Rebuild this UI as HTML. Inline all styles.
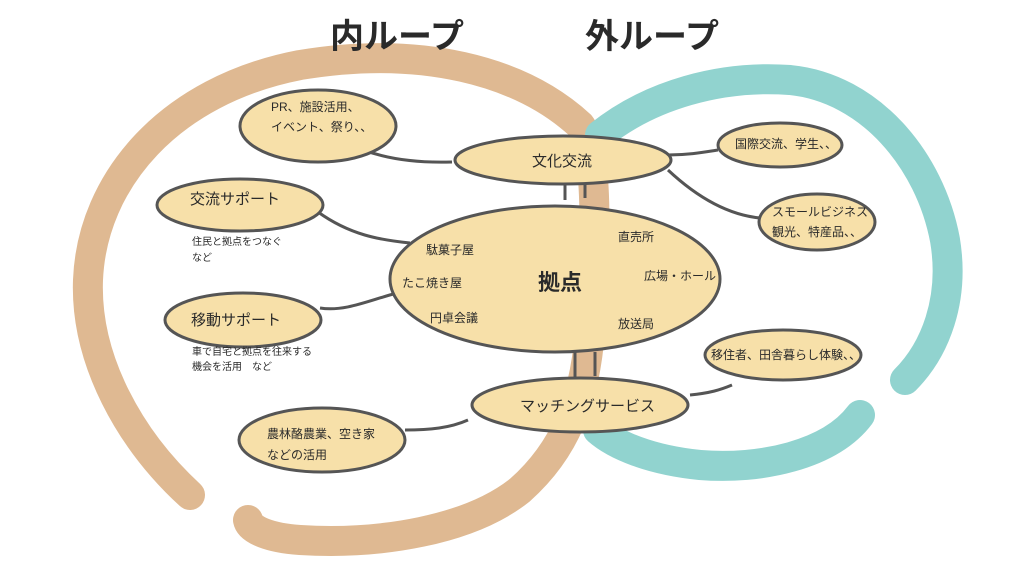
<!DOCTYPE html>
<html><head><meta charset="utf-8"><style>
html,body{margin:0;padding:0;background:#fff;width:1024px;height:580px;overflow:hidden}
svg{display:block}
text{font-family:"Liberation Sans","Noto Sans CJK JP",sans-serif;fill:#2a2a2a}
</style></head><body>
<svg width="1024" height="580" viewBox="0 0 1024 580">
<!-- tan loop -->
<path d="M190 495 C 130 440, 85 360, 88 280 C 92 180, 170 90, 300 65 C 420 45, 520 70, 580 125 C 600 150, 595 260, 590 330 C 585 400, 565 450, 520 490 C 470 530, 380 545, 300 540 C 270 538, 250 530, 248 520" fill="none" stroke="#dfb992" stroke-width="30" stroke-linecap="round"/>
<!-- teal loop -->
<path d="M600 135 C 650 95, 720 75, 790 80 C 870 88, 930 160, 945 240 C 955 300, 935 350, 905 380" fill="none" stroke="#91d3cf" stroke-width="30" stroke-linecap="round"/>
<path d="M860 415 C 830 455, 760 470, 700 465 C 650 460, 615 445, 598 430" fill="none" stroke="#91d3cf" stroke-width="30" stroke-linecap="round"/>
<text x="330" y="48" font-size="34" font-weight="bold">内ループ</text>
<text x="585" y="48" font-size="34" font-weight="bold">外ループ</text>
<g fill="none" stroke="#555" stroke-width="3">
<path d="M348 143 C 380 160, 420 163, 452 162"/>
<path d="M318 212 C 350 235, 380 240, 410 243"/>
<path d="M320 308 C 345 312, 370 300, 397 293"/>
<path d="M405 430 C 430 430, 450 428, 468 420"/>
<path d="M668 155 C 690 155, 705 152, 718 150"/>
<path d="M668 170 C 700 200, 730 215, 760 218"/>
<path d="M690 395 C 710 393, 720 390, 732 385"/>
<path d="M565 183 V200 M585 183 V198 M575 352 V378 M595 352 V376"/>
</g>
<g stroke="#555" stroke-width="3" fill="#f7e0a9">
<ellipse cx="318" cy="126" rx="78" ry="36"/>
<ellipse cx="563" cy="160" rx="108" ry="24"/>
<ellipse cx="240" cy="205" rx="83" ry="26"/>
<ellipse cx="243" cy="320" rx="78" ry="27"/>
<ellipse cx="555" cy="279" rx="165" ry="73"/>
<ellipse cx="780" cy="145" rx="62" ry="22"/>
<ellipse cx="817" cy="222" rx="58" ry="28"/>
<ellipse cx="783" cy="355" rx="78" ry="25"/>
<ellipse cx="580" cy="405" rx="108" ry="27"/>
<ellipse cx="322" cy="440" rx="83" ry="32"/>
</g>
<g font-size="12">
<text x="271" y="111">PR、施設活用、</text>
<text x="271" y="131">イベント、祭り、、</text>
<text x="735" y="148">国際交流、学生、、</text>
<text x="772" y="216">スモールビジネス</text>
<text x="772" y="236">観光、特産品、、</text>
<text x="711" y="359">移住者、田舎暮らし体験、、</text>
<text x="267" y="438">農林酪農業、空き家</text>
<text x="267" y="459">などの活用</text>
<text x="426" y="254">駄菓子屋</text>
<text x="402" y="287">たこ焼き屋</text>
<text x="430" y="322">円卓会議</text>
<text x="618" y="241">直売所</text>
<text x="644" y="280">広場・ホール</text>
<text x="618" y="328">放送局</text>
</g>
<g font-size="15">
<text x="532" y="166">文化交流</text>
<text x="190" y="204">交流サポート</text>
<text x="191" y="325">移動サポート</text>
<text x="520" y="411">マッチングサービス</text>
</g>
<text x="538" y="290" font-size="22" font-weight="bold">拠点</text>
<g font-size="10">
<text x="192" y="245">住民と拠点をつなぐ</text>
<text x="192" y="261">など</text>
<text x="192" y="355">車で自宅と拠点を往来する</text>
<text x="192" y="370">機会を活用　など</text>
</g>
</svg>
</body></html>
